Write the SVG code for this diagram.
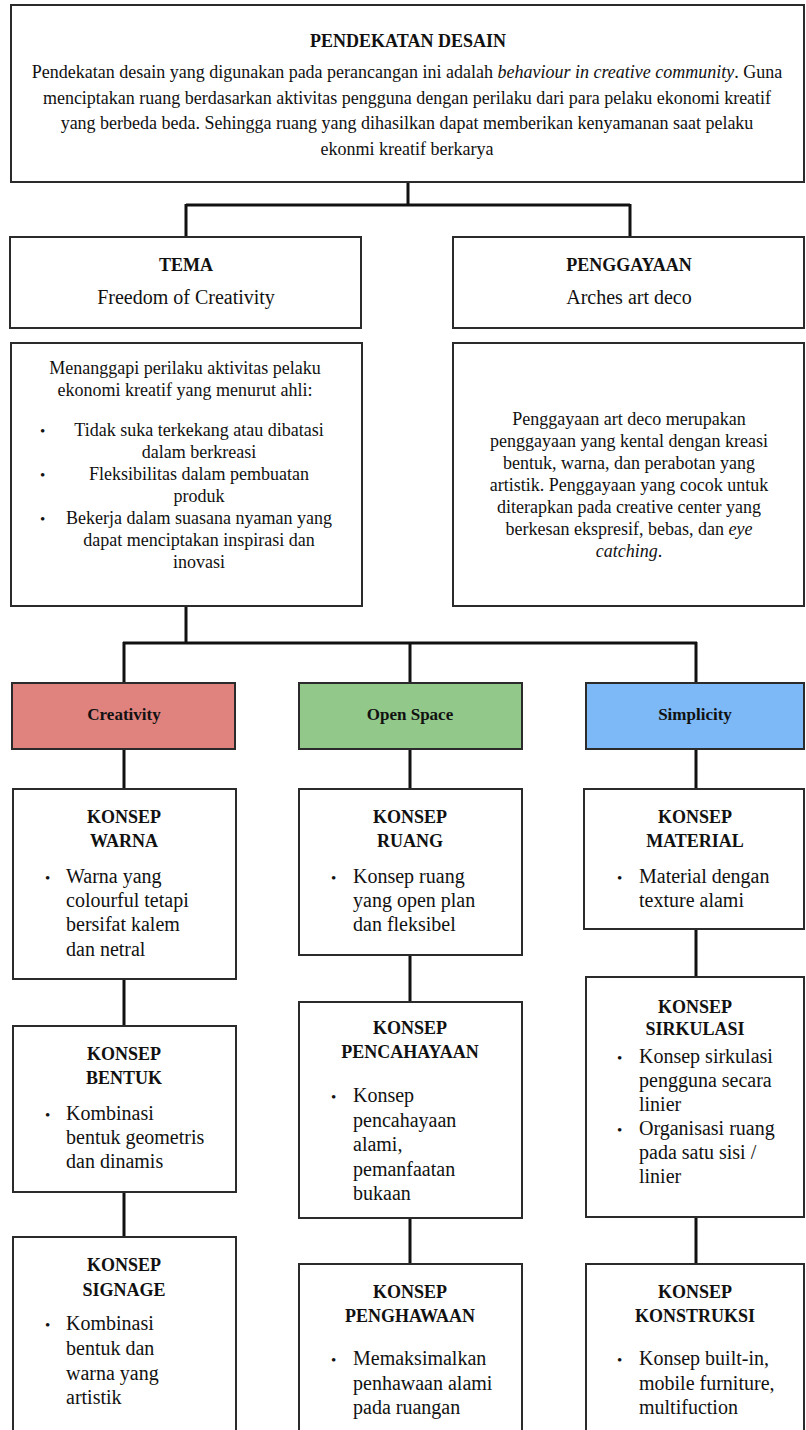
<svg xmlns="http://www.w3.org/2000/svg" width="806" height="1430" viewBox="0 0 806 1430">
<style>
.box{fill:#fff;stroke:#2b2b2b;stroke-width:2}
.t{font-family:"Liberation Serif","Times New Roman",serif;fill:#111}
.h{font-size:18px;font-weight:bold;text-anchor:middle}
.b{font-size:20px}
.c{text-anchor:middle}
.p{font-size:18px}
.d{font-size:18px}
.dot{font-size:15px}
.lab{font-size:17px;font-weight:bold;text-anchor:middle}
.con{stroke:#111;stroke-width:3;fill:none}
</style>
<rect width="806" height="1430" fill="#fff"/>
<g id="connectors">
<path class="con" d="M408 182V205M186 205H630M186 204V237M630 204V237"/>
<path class="con" d="M186 606V643M123 643H697M124 642V683M410 642V683M696 642V683"/>
<path class="con" d="M124 749V789M124 979V1026M124 1192V1237"/>
<path class="con" d="M410 749V789M410 955V1002M410 1218V1264"/>
<path class="con" d="M696 749V789M696 929V977M696 1217V1264"/>
</g>
<g id="pendekatan">
<rect class="box" x="11" y="5" width="793" height="177"/>
<text class="t h" x="408" y="47">PENDEKATAN DESAIN</text>
<text class="t p c" x="407" y="78">Pendekatan desain yang digunakan pada perancangan ini adalah <tspan font-style="italic">behaviour in creative community</tspan>. Guna</text>
<text class="t p c" x="407" y="103.5">menciptakan ruang berdasarkan aktivitas pengguna dengan perilaku dari para pelaku ekonomi kreatif</text>
<text class="t p c" x="407" y="129">yang berbeda beda. Sehingga ruang yang dihasilkan dapat memberikan kenyamanan saat pelaku</text>
<text class="t p c" x="407" y="154.5">ekonmi kreatif berkarya</text>
</g>
<g id="tema">
<rect class="box" x="10" y="237" width="351" height="91"/>
<text class="t h" x="186" y="271">TEMA</text>
<text class="t b c" x="186" y="304">Freedom of Creativity</text>
</g>
<g id="penggayaan">
<rect class="box" x="453" y="237" width="351" height="91"/>
<text class="t h" x="629" y="271">PENGGAYAAN</text>
<text class="t b c" x="629" y="304">Arches art deco</text>
</g>
<g id="tema-desc">
<rect class="box" x="11" y="343" width="351" height="263"/>
<text class="t d c" x="185" y="374">Menanggapi perilaku aktivitas pelaku</text>
<text class="t d c" x="185" y="396">ekonomi kreatif yang menurut ahli:</text>
<text class="t dot" x="40" y="436">•</text>
<text class="t d c" x="199" y="436">Tidak suka terkekang atau dibatasi</text>
<text class="t d c" x="199" y="458">dalam berkreasi</text>
<text class="t dot" x="40" y="480">•</text>
<text class="t d c" x="199" y="480">Fleksibilitas dalam pembuatan</text>
<text class="t d c" x="199" y="502">produk</text>
<text class="t dot" x="40" y="524">•</text>
<text class="t d c" x="199" y="524">Bekerja dalam suasana nyaman yang</text>
<text class="t d c" x="199" y="546">dapat menciptakan inspirasi dan</text>
<text class="t d c" x="199" y="568">inovasi</text>
</g>
<g id="penggayaan-desc">
<rect class="box" x="453" y="343" width="351" height="263"/>
<text class="t d c" x="629" y="425">Penggayaan art deco merupakan</text>
<text class="t d c" x="629" y="447">penggayaan yang kental dengan kreasi</text>
<text class="t d c" x="629" y="469">bentuk, warna, dan perabotan yang</text>
<text class="t d c" x="629" y="491">artistik. Penggayaan yang cocok untuk</text>
<text class="t d c" x="629" y="513">diterapkan pada creative center yang</text>
<text class="t d c" x="629" y="535">berkesan ekspresif, bebas, dan <tspan font-style="italic">eye</tspan></text>
<text class="t d c" x="629" y="557"><tspan font-style="italic">catching</tspan>.</text>
</g>
<g id="creativity">
<rect x="12" y="683" width="223" height="66" fill="#e0827e" stroke="#2b2b2b" stroke-width="2"/>
<text class="t lab" x="124" y="720">Creativity</text>
</g>
<g id="open-space">
<rect x="299" y="683" width="223" height="66" fill="#92c88a" stroke="#2b2b2b" stroke-width="2"/>
<text class="t lab" x="410" y="720">Open Space</text>
</g>
<g id="simplicity">
<rect x="586" y="683" width="218" height="66" fill="#7cb9f6" stroke="#2b2b2b" stroke-width="2"/>
<text class="t lab" x="695" y="720">Simplicity</text>
</g>
<g id="konsep-warna">
<rect class="box" x="13" y="789" width="223" height="190"/>
<text class="t h" x="124" y="823">KONSEP</text>
<text class="t h" x="124" y="847">WARNA</text>
<text class="t dot" x="45" y="883">•</text>
<text class="t b" x="66" y="883">Warna yang</text>
<text class="t b" x="66" y="907">colourful tetapi</text>
<text class="t b" x="66" y="931">bersifat kalem</text>
<text class="t b" x="66" y="956">dan netral</text>
</g>
<g id="konsep-bentuk">
<rect class="box" x="13" y="1026" width="223" height="166"/>
<text class="t h" x="124" y="1060">KONSEP</text>
<text class="t h" x="124" y="1084">BENTUK</text>
<text class="t dot" x="45" y="1120">•</text>
<text class="t b" x="66" y="1120">Kombinasi</text>
<text class="t b" x="66" y="1144">bentuk geometris</text>
<text class="t b" x="66" y="1168">dan dinamis</text>
</g>
<g id="konsep-signage">
<rect class="box" x="13" y="1237" width="223" height="200"/>
<text class="t h" x="124" y="1271">KONSEP</text>
<text class="t h" x="124" y="1296">SIGNAGE</text>
<text class="t dot" x="45" y="1330">•</text>
<text class="t b" x="66" y="1330">Kombinasi</text>
<text class="t b" x="66" y="1355">bentuk dan</text>
<text class="t b" x="66" y="1380">warna yang</text>
<text class="t b" x="66" y="1404">artistik</text>
</g>
<g id="konsep-ruang">
<rect class="box" x="299" y="789" width="223" height="166"/>
<text class="t h" x="410" y="823">KONSEP</text>
<text class="t h" x="410" y="847">RUANG</text>
<text class="t dot" x="331" y="883">•</text>
<text class="t b" x="353" y="883">Konsep ruang</text>
<text class="t b" x="353" y="907">yang open plan</text>
<text class="t b" x="353" y="931">dan fleksibel</text>
</g>
<g id="konsep-pencahayaan">
<rect class="box" x="299" y="1002" width="223" height="216"/>
<text class="t h" x="410" y="1034">KONSEP</text>
<text class="t h" x="410" y="1058">PENCAHAYAAN</text>
<text class="t dot" x="331" y="1102">•</text>
<text class="t b" x="353" y="1102">Konsep</text>
<text class="t b" x="353" y="1127">pencahayaan</text>
<text class="t b" x="353" y="1151">alami,</text>
<text class="t b" x="353" y="1176">pemanfaatan</text>
<text class="t b" x="353" y="1200">bukaan</text>
</g>
<g id="konsep-penghawaan">
<rect class="box" x="299" y="1264" width="223" height="180"/>
<text class="t h" x="410" y="1298">KONSEP</text>
<text class="t h" x="410" y="1322">PENGHAWAAN</text>
<text class="t dot" x="331" y="1365">•</text>
<text class="t b" x="353" y="1365">Memaksimalkan</text>
<text class="t b" x="353" y="1390">penhawaan alami</text>
<text class="t b" x="353" y="1414">pada ruangan</text>
</g>
<g id="konsep-material">
<rect class="box" x="584" y="789" width="220" height="140"/>
<text class="t h" x="695" y="823">KONSEP</text>
<text class="t h" x="695" y="847">MATERIAL</text>
<text class="t dot" x="617" y="883">•</text>
<text class="t b" x="639" y="883">Material dengan</text>
<text class="t b" x="639" y="907">texture alami</text>
</g>
<g id="konsep-sirkulasi">
<rect class="box" x="586" y="977" width="218" height="240"/>
<text class="t h" x="695" y="1013">KONSEP</text>
<text class="t h" x="695" y="1035">SIRKULASI</text>
<text class="t dot" x="617" y="1063">•</text>
<text class="t b" x="639" y="1063">Konsep sirkulasi</text>
<text class="t b" x="639" y="1087">pengguna secara</text>
<text class="t b" x="639" y="1111">linier</text>
<text class="t dot" x="617" y="1135">•</text>
<text class="t b" x="639" y="1135">Organisasi ruang</text>
<text class="t b" x="639" y="1159">pada satu sisi /</text>
<text class="t b" x="639" y="1183">linier</text>
</g>
<g id="konsep-konstruksi">
<rect class="box" x="586" y="1264" width="218" height="180"/>
<text class="t h" x="695" y="1298">KONSEP</text>
<text class="t h" x="695" y="1322">KONSTRUKSI</text>
<text class="t dot" x="617" y="1365">•</text>
<text class="t b" x="639" y="1365">Konsep built-in,</text>
<text class="t b" x="639" y="1390">mobile furniture,</text>
<text class="t b" x="639" y="1414">multifuction</text>
</g>
</svg>
